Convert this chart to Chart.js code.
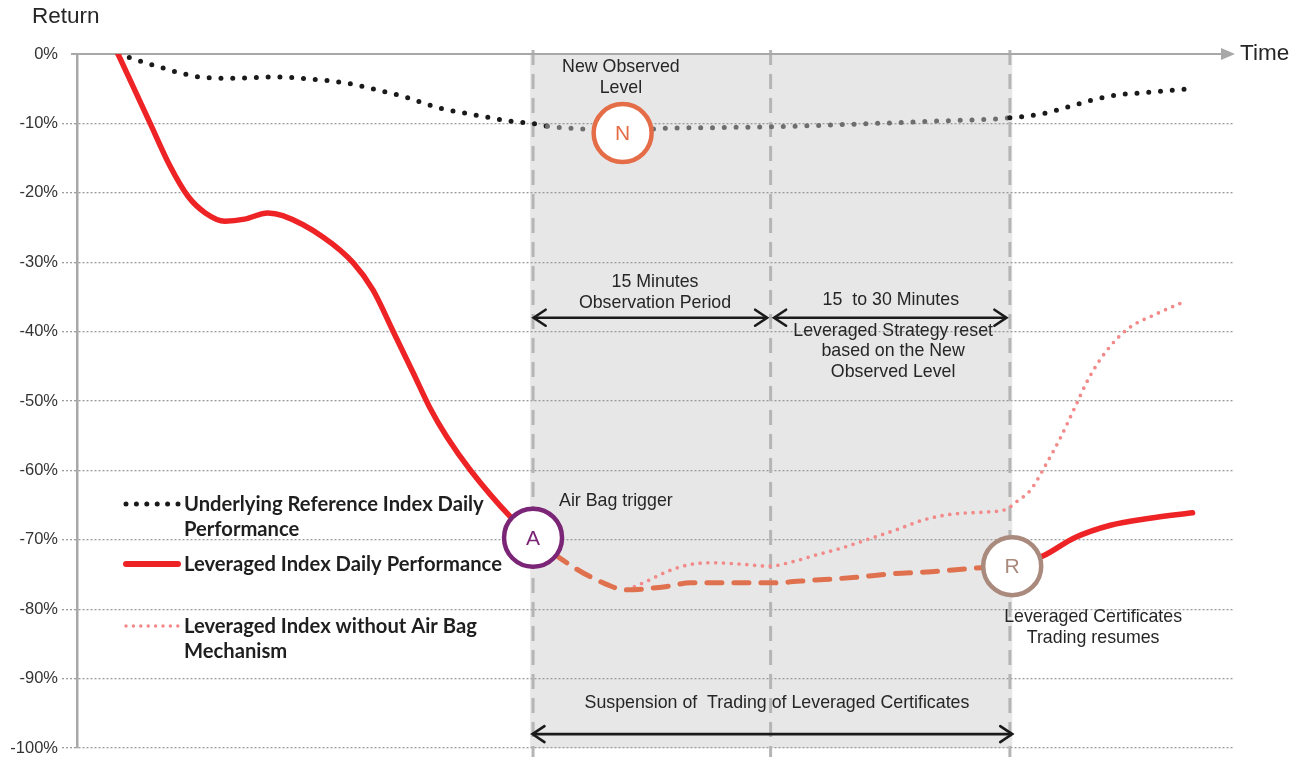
<!DOCTYPE html>
<html>
<head>
<meta charset="utf-8">
<script src="https://cdn.jsdelivr.net/npm/chart.js@4.4.0/dist/chart.umd.min.js"></script>
<style>
  html, body { margin: 0; padding: 0; background: #ffffff; }
  #wrap { width: 1306px; height: 758px; position: relative; }
</style>
</head>
<body>
<div id="wrap"><canvas id="chart" width="1306" height="758"></canvas></div>
<script>
// ---------------- DATA (time in arbitrary units 0..100, return in %) ----------------
const yTickValues = [0, -10, -20, -30, -40, -50, -60, -70, -80, -90, -100];

const underlyingX = [3.55, 6.6, 8.65, 10.6, 13.8, 17.0, 20.2, 23.3, 25.3, 28.4, 31.4, 34.5, 37.6, 39.4, 40.7, 43.8, 47.2, 51.1, 55.5, 59.8, 67.5, 73.8, 80.7, 83.8, 85.8, 87.9, 90.0, 92.0, 94.1, 96.2];
const underlyingY = [0, -1.6, -2.6, -3.3, -3.5, -3.3, -3.6, -4.2, -4.9, -6.2, -7.8, -8.8, -9.7, -10.0, -10.4, -10.8, -11.0, -10.7, -10.6, -10.5, -10.1, -9.7, -9.2, -8.5, -7.6, -6.6, -5.9, -5.6, -5.3, -5.0];

const leveragedBeforeX = [3.55, 6.3, 8.0, 9.6, 11.1, 12.8, 14.5, 16.5, 17.8, 21.3, 23.9, 25.6, 27.3, 29.1, 30.5, 32.0, 34.0, 37.5, 39.45];
const leveragedBeforeY = [0, -9.9, -16.0, -20.5, -22.9, -24.1, -23.8, -22.9, -23.3, -26.4, -30.1, -34.0, -39.8, -46.0, -50.9, -55.2, -59.9, -66.7, -69.7];

const leveragedAfterX = [80.9, 83.6, 86.3, 89.4, 92.8, 96.5];
const leveragedAfterY = [-73.8, -72.3, -69.7, -67.9, -66.9, -66.1];

const airBagX = [39.45, 42.0, 44.5, 47.6, 50.7, 53.1, 55.6, 59.9, 63.9, 67.4, 70.4, 73.9, 77.6, 80.9];
const airBagY = [-69.7, -72.9, -75.4, -77.2, -76.8, -76.2, -76.2, -76.2, -75.8, -75.4, -74.9, -74.6, -74.1, -73.8];

const noAirBagX = [47.6, 49.5, 51.0, 52.9, 55.0, 57.4, 59.9, 61.8, 63.9, 66.1, 68.3, 70.8, 73.3, 75.7, 78.5, 80.4, 81.2, 82.5, 83.8, 85.1, 86.3, 87.5, 89.0, 90.9, 93.3, 95.9];
const noAirBagY = [-77.2, -75.8, -74.6, -73.6, -73.3, -73.5, -73.8, -73.2, -72.2, -71.2, -70.0, -68.6, -67.1, -66.3, -66.0, -65.6, -64.6, -62.8, -59.2, -55.2, -51.0, -46.8, -42.9, -39.6, -37.5, -35.6];

const markerLetters = ['A', 'N', 'R'];
const markerX = [39.45, 47.2, 80.9];
const markerY = [-69.7, -11.4, -73.8];

// period boundaries (time units)
const suspensionStart = 39.2;
const suspensionEnd = 80.9;
const periodLines = [39.45, 60.0, 80.7];

const legendLabels = [
  ['Underlying Reference Index Daily', 'Performance'],
  ['Leveraged Index Daily Performance'],
  ['Leveraged Index without Air Bag', 'Mechanism']
];

// ---------------- helpers ----------------
const pts = (xs, ys) => xs.map((x, i) => ({ x: x, y: ys[i] }));
const TXT = '#262626';
const FONT = '"Liberation Sans", Arial, sans-serif';
const COL = {
  under: '#1a1a1a', underShade: '#6e6e6e', red: '#ee2326', orange: '#e0714f', pink: '#f28a8a',
  A: '#7b2577', N: '#e46c47', R: '#a98a7d', grid: '#9c9c9c', axis: '#a8a8a8', shade: '#e7e7e7', dash: '#b5b5b5'
};

function arrowHead(ctx, x, y, dir) {
  ctx.beginPath();
  ctx.moveTo(x - dir * 12, y - 8);
  ctx.lineTo(x, y);
  ctx.lineTo(x - dir * 12, y + 8);
  ctx.stroke();
}
function doubleArrow(ctx, x1, x2, y) {
  ctx.save();
  ctx.strokeStyle = '#1a1a1a';
  ctx.lineWidth = 2.6;
  ctx.lineCap = 'round';
  ctx.lineJoin = 'miter';
  ctx.beginPath(); ctx.moveTo(x1 + 1, y); ctx.lineTo(x2 - 1, y); ctx.stroke();
  arrowHead(ctx, x1, y, -1);
  arrowHead(ctx, x2, y, 1);
  ctx.restore();
}
function text(ctx, str, x, y, align, size, weight, color, family) {
  ctx.save();
  ctx.font = (weight || 'normal') + ' ' + (size || 17.8) + 'px ' + (family || FONT);
  ctx.fillStyle = color || TXT;
  ctx.textAlign = align || 'center';
  ctx.textBaseline = 'middle';
  ctx.fillText(str, x, y);
  ctx.restore();
}

const annotations = {
  id: 'annotations',
  beforeDraw(chart) {
    const { ctx, scales: { x, y } } = chart;
    ctx.save();
    ctx.fillStyle = COL.shade;
    const x1 = x.getPixelForValue(suspensionStart), x2 = x.getPixelForValue(suspensionEnd);
    const y1 = y.getPixelForValue(0), y2 = y.getPixelForValue(-100);
    ctx.fillRect(x1, y1, x2 - x1, y2 - y1);
    ctx.restore();
  },
  beforeDatasetsDraw(chart) {
    const { ctx, chartArea, scales: { x, y } } = chart;
    ctx.save();
    ctx.strokeStyle = COL.dash;
    ctx.lineWidth = 3;
    ctx.setLineDash([15, 9]);
    periodLines.forEach(v => {
      const px = x.getPixelForValue(v);
      ctx.beginPath();
      ctx.moveTo(px, y.getPixelForValue(0) - 4);
      ctx.lineTo(px, y.getPixelForValue(-100) + 9);
      ctx.stroke();
    });
    ctx.restore();
    const y0 = y.getPixelForValue(0);
    ctx.save();
    ctx.strokeStyle = COL.axis;
    ctx.fillStyle = COL.axis;
    ctx.lineWidth = 2;
    ctx.beginPath();
    ctx.moveTo(chartArea.left - 6, y0);
    ctx.lineTo(chartArea.right - 10, y0);
    ctx.stroke();
    ctx.beginPath();
    ctx.moveTo(chartArea.right + 2, y0);
    ctx.lineTo(chartArea.right - 12, y0 - 6);
    ctx.lineTo(chartArea.right - 12, y0 + 6);
    ctx.closePath();
    ctx.fill();
    ctx.restore();
  },
  afterDatasetsDraw(chart) {
    const { ctx, chartArea, scales: { x, y } } = chart;
    const X = v => x.getPixelForValue(v), Y = v => y.getPixelForValue(v);
    const mcol = [COL.A, COL.N, COL.R];
    markerLetters.forEach((L, i) => text(ctx, L, X(markerX[i]), Y(markerY[i]) + 1, 'center', 21, 'normal', mcol[i]));
    text(ctx, 'Return', 32, 17, 'left', 22.5);
    text(ctx, 'Time', chartArea.right + 7, Y(0), 'left', 22.5);
    doubleArrow(ctx, X(39.5), X(59.7), Y(-38.0));
    doubleArrow(ctx, X(60.3), X(80.4), Y(-38.0));
    doubleArrow(ctx, X(39.4), X(80.9), Y(-98.0));
    text(ctx, '15 Minutes', X(50.0), Y(-32.9));
    text(ctx, 'Observation Period', X(50.0), Y(-35.9));
    text(ctx, '15  to 30 Minutes', X(70.4), Y(-35.4));
    text(ctx, 'Leveraged Strategy reset', X(70.6), Y(-39.9));
    text(ctx, 'based on the New', X(70.6), Y(-42.8));
    text(ctx, 'Observed Level', X(70.6), Y(-45.8));
    text(ctx, 'Suspension of  Trading of Leveraged Certificates', X(60.55), Y(-93.5));
    text(ctx, 'New Observed', X(47.05), Y(-1.9));
    text(ctx, 'Level', X(47.05), Y(-4.9));
    text(ctx, 'Air Bag trigger', X(41.7), Y(-64.4), 'left');
    text(ctx, 'Leveraged Certificates', X(87.9), Y(-81.1));
    text(ctx, 'Trading resumes', X(87.9), Y(-84.1));
    // legend
    const lx1 = 126, lx2 = 178, tx = 184;
    const rows = [504, 564, 626];
    ctx.save();
    ctx.lineCap = 'round';
    ctx.strokeStyle = COL.under; ctx.lineWidth = 5; ctx.setLineDash([0, 10.4]);
    ctx.beginPath(); ctx.moveTo(lx1, rows[0]); ctx.lineTo(lx2 + 1, rows[0]); ctx.stroke();
    ctx.setLineDash([]); ctx.strokeStyle = COL.red; ctx.lineWidth = 6;
    ctx.beginPath(); ctx.moveTo(lx1, rows[1]); ctx.lineTo(lx2, rows[1]); ctx.stroke();
    ctx.strokeStyle = COL.pink; ctx.lineWidth = 3.5; ctx.setLineDash([0, 7.4]);
    ctx.beginPath(); ctx.moveTo(lx1, rows[2]); ctx.lineTo(lx2 + 1, rows[2]); ctx.stroke();
    ctx.restore();
    legendLabels.forEach((lines, i) => {
      lines.forEach((ln, j) => text(ctx, ln, tx, rows[i] + j * 25, 'left', 20.2, 'bold', '#1f1f1f', 'Lato, "Open Sans", sans-serif'));
    });
  }
};

const inShade = c => c.p0.parsed.x >= periodLines[0] - 0.01 && c.p1.parsed.x <= periodLines[2] + 0.01;

new Chart(document.getElementById('chart'), {
  type: 'line',
  data: {
    datasets: [
      {
        label: 'Markers',
        data: pts(markerX, markerY),
        showLine: false,
        pointRadius: 29,
        pointHoverRadius: 29,
        pointBorderWidth: 4.5,
        pointBackgroundColor: '#ffffff',
        pointBorderColor: [COL.A, COL.N, COL.R],
        order: 0
      },
      {
        label: 'Air Bag',
        data: pts(airBagX, airBagY),
        borderColor: COL.orange,
        borderWidth: 5,
        borderDash: [15, 12],
        borderCapStyle: 'round',
        pointRadius: 0,
        cubicInterpolationMode: 'monotone',
        order: 1
      },
      {
        label: 'Leveraged Index Daily Performance',
        data: pts(leveragedBeforeX, leveragedBeforeY),
        borderColor: COL.red,
        borderWidth: 5.5,
        borderCapStyle: 'round',
        pointRadius: 0,
        cubicInterpolationMode: 'monotone',
        order: 2
      },
      {
        label: 'Leveraged Index Daily Performance (after)',
        data: pts(leveragedAfterX, leveragedAfterY),
        borderColor: COL.red,
        borderWidth: 5.5,
        borderCapStyle: 'round',
        pointRadius: 0,
        cubicInterpolationMode: 'monotone',
        order: 2
      },
      {
        label: 'Leveraged Index without Air Bag Mechanism',
        data: pts(noAirBagX, noAirBagY),
        borderColor: COL.pink,
        borderWidth: 3.7,
        borderDash: [0, 7.8],
        borderCapStyle: 'round',
        pointRadius: 0,
        cubicInterpolationMode: 'monotone',
        order: 3
      },
      {
        label: 'Underlying Reference Index Daily Performance',
        data: pts(underlyingX, underlyingY),
        borderColor: COL.under,
        borderWidth: 5,
        borderDash: [0, 11.8],
        borderCapStyle: 'round',
        pointRadius: 0,
        cubicInterpolationMode: 'monotone',
        segment: { borderColor: c => inShade(c) ? COL.underShade : COL.under },
        order: 4
      }
    ]
  },
  options: {
    responsive: false,
    animation: false,
    devicePixelRatio: 1,
    layout: { autoPadding: false, padding: { top: 54, right: 73, bottom: 10, left: 0 } },
    plugins: { legend: { display: false }, tooltip: { enabled: false } },
    events: [],
    scales: {
      x: {
        type: 'linear', min: 0, max: 100, display: false,
        ticks: { display: false }, grid: { display: false },
        afterFit(s) { s.height = 0; }
      },
      y: {
        min: -100,
        max: 0,
        afterFit(s) { s.width = 77; s.paddingTop = 0; s.paddingBottom = 0; },
        afterBuildTicks(s) { s.ticks = yTickValues.map(v => ({ value: v })); },
        ticks: {
          callback: v => v + '%',
          font: { family: FONT, size: 16.5 },
          color: '#333333',
          padding: 4
        },
        grid: {
          color: c => (c.tick && c.tick.value === 0) ? 'rgba(0,0,0,0)' : COL.grid,
          lineWidth: 1.3,
          tickLength: 15,
          tickBorderDash: [2, 2],
          tickWidth: 1.3
        },
        border: { color: COL.axis, width: 2.5, dash: [2, 2] }
      }
    }
  },
  plugins: [annotations]
});
</script>
</body>
</html>
